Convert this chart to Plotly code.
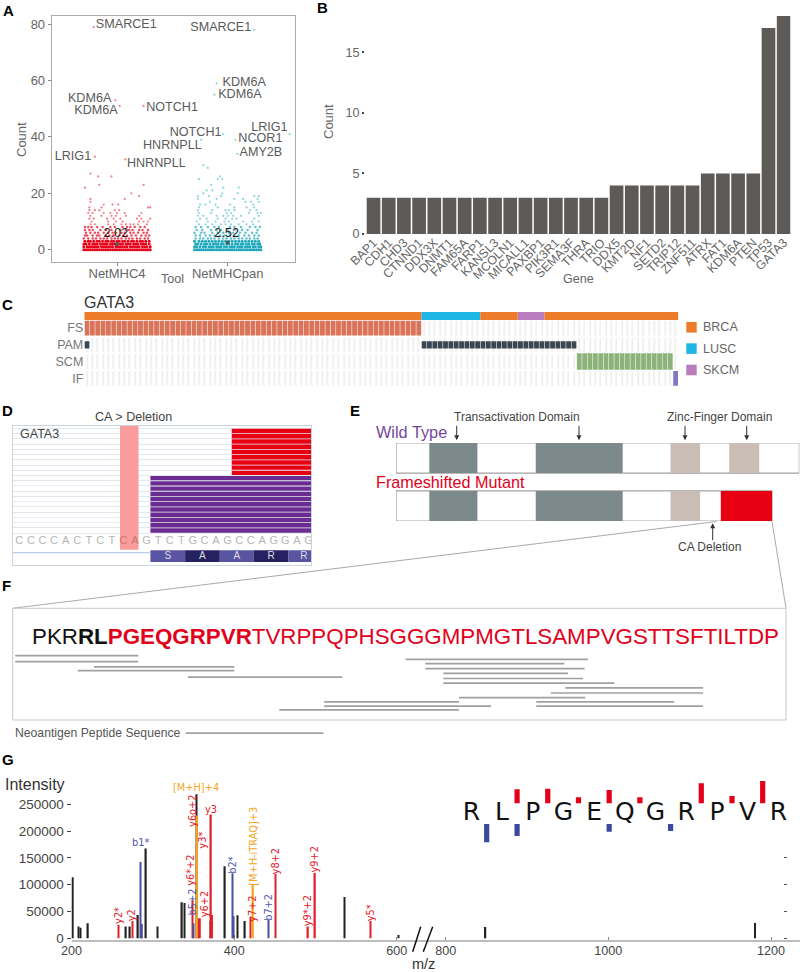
import plotly.graph_objects as go

W, H = 800, 972
SANS = "Liberation Sans"
MONO = "DejaVu Sans"
GREY = "#666666"

# ---------- Panel A data ----------
tools = ["NetMHC4", "NetMHCpan"]
n4_counts = [0, 1, 2, 3, 4, 5, 6, 7, 8, 9, 10, 11, 12, 13, 14, 15, 16, 17, 18, 19, 20, 22, 23, 26, 27]
n4_jitter = [
    [-30, -28, -26, -24, -22, -20, -18, -16, -14, -12, -10, -8, -6, -4, -2, 0, 2, 4, 6, 8, 10, 12, 14, 16, 18, 20, 22, 24, 26, 28, 30],
    [-30, -27, -25, -23, -21, -19, -17, -14, -12, -10, -8, -6, -4, -1, 1, 3, 5, 7, 9, 12, 14, 16, 18, 20, 23, 25, 27, 30],
    [-30, -28, -25, -22, -20, -18, -15, -13, -11, -9, -6, -4, -2, 0, 3, 5, 8, 10, 12, 15, 17, 19, 22, 24, 26, 29],
    [-29, -26, -24, -21, -18, -16, -13, -10, -8, -5, -3, 0, 2, 5, 7, 10, 13, 15, 18, 21, 23, 26, 29],
    [-30, -26, -22, -19, -15, -12, -9, -5, -2, 1, 4, 8, 11, 14, 18, 21, 25, 28],
    [-29, -27, -22, -18, -16, -10, -7, -3, 2, 6, 9, 13, 17, 22, 26, 29],
    [-28, -24, -20, -17, -12, -8, -4, -1, 4, 7, 12, 15, 19, 24, 27],
    [-29, -25, -22, -15, -10, -5, 3, 8, 11, 14, 20, 23, 28],
    [-29, -26, -23, -18, -13, -6, -2, 5, 9, 12, 16, 21, 25],
    [-24, -20, -8, -3, 4, 8, 12, 15, 19, 27],
    [-23, -8, -1, 5, 20, 24, 28],
    [-25, -21, -9, -3, 3, 18, 22, 30],
    [-24, -14, -5, -1, 8, 20],
    [-26, -22, -12, -6, 0, 7, 22],
    [-25, -20, -16, -2, 2],
    [-25, -14, 28, 30],
    [-12, -4, 1],
    [-24],
    [-24, 7],
    [20],
    [13],
    [-29],
    [-16, 24],
    [-17, -5],
    [-24],
]
n4_top_x = [-0.21, -0.015, 0.024, 0.24, -0.2, 0.075]
n4_top_y = [79, 53, 51, 51, 33, 32]

pan_counts = [0, 1, 2, 3, 4, 5, 6, 7, 8, 9, 10, 11, 12, 13, 14, 15, 16, 17, 18, 19, 20, 21, 22, 23, 25, 26]
pan_jitter = [
    [-30, -28, -26, -24, -22, -20, -18, -16, -14, -12, -10, -8, -6, -4, -2, 0, 2, 4, 6, 8, 10, 12, 14, 16, 18, 20, 22, 24, 26, 28, 30],
    [-30, -28, -25, -22, -20, -17, -15, -13, -10, -8, -6, -3, -1, 2, 4, 6, 9, 11, 13, 16, 18, 20, 23, 25, 28, 30],
    [-29, -27, -24, -21, -19, -16, -13, -11, -9, -6, -4, -1, 1, 4, 7, 9, 12, 14, 17, 19, 22, 24, 27, 29],
    [-30, -26, -23, -20, -17, -14, -11, -8, -5, -2, 1, 4, 7, 10, 13, 16, 19, 22, 25, 28],
    [-29, -25, -22, -18, -15, -12, -8, -4, -1, 3, 6, 10, 13, 17, 20, 24, 27],
    [-29, -25, -20, -16, -12, -7, -3, 2, 6, 10, 15, 19, 24, 28],
    [-30, -24, -21, -14, -9, -4, 1, 5, 11, 16, 22, 26],
    [-28, -23, -15, -10, -6, 0, 7, 13, 18, 27],
    [-29, -24, -18, -12, -8, 2, 6, 12, 20, 25, 29],
    [-26, -20, -14, -6, -2, 3, 10, 17, 23],
    [-28, -18, -11, -3, 1, 14, 22, 28],
    [-25, -19, -9, -2, 4, 8, 24],
    [-27, -22, -10, -4, 0, 5, 12, 28],
    [-26, -15, -1, 3, 19, 27, 30],
    [-27, -14, -2, 1, 6, 20, 26],
    [-26, -9, 6, 17, 24],
    [-25, -20, -11, 2, 23],
    [-16, 16, 21, 28],
    [-27, -10, 6, 14, 27],
    [-27, -17, -6, 24, 28],
    [-22, -5, 9],
    [-19, -14],
    [-4, 10],
    [-15],
    [-26, -9, -5],
    [-7],
]
pan_top_x = [1.238, 0.9, 0.88, 0.96, 1.56, 1.07, 1.087, 0.76, 0.78, 0.82]
pan_top_y = [78, 59, 55, 41, 41, 39, 34, 39, 30, 29]

means = [2.02, 2.52]
a_labels = ["SMARCE1", "KDM6A", "KDM6A", "NOTCH1", "LRIG1", "HNRNPLL", "SMARCE1", "KDM6A", "KDM6A",
            "NOTCH1", "LRIG1", "NCOR1", "AMY2B", "HNRNPLL"]
a_label_x = [0.084, -0.247, -0.19, 0.497, -0.398, 0.355, 0.937, 1.15, 1.11, 0.71, 1.376, 1.295, 1.30, 0.5]
a_label_y = [79.6, 53.5, 49.2, 50.2, 32.9, 30.3, 78.6, 59.2, 55, 41.5, 43.3, 39.3, 34.3, 37]

# ---------- Panel B data ----------
genes = ["BAP1", "CDH1", "CHD3", "CTNND1", "DDX3X", "DNMT1", "FAM65A", "FARP1", "KANSL3", "MCOLN1", "MICALL1",
         "PAXBP1", "PIK3R1", "SEMA3F", "THRA", "TRIO", "DDX5", "KMT2D", "NF1", "SETD2", "TRIP12", "ZNF511",
         "ATRX", "FAT1", "KDM6A", "PTEN", "TP53", "GATA3"]
gene_counts = [3, 3, 3, 3, 3, 3, 3, 3, 3, 3, 3, 3, 3, 3, 3, 3, 4, 4, 4, 4, 4, 4, 5, 5, 5, 5, 17, 18]

# ---------- Panel C data ----------
onco_rows = ["IF", "SCM", "PAM", "FS"]
n_samples = 111
cancer_names = ["BRCA", "LUSC", "BRCA", "SKCM", "BRCA"]
cancer_span = [63, 11, 7, 5, 25]
fs_samples = list(range(0, 63))
pam_samples = [0] + list(range(63, 92))
scm_samples = list(range(92, 110))
if_samples = [110]

# ---------- Panel D data ----------
bases = list("CCCCACTCTCAGTCTGCAGCCAGGAG")
red_rows = [0, 1, 2, 3, 4, 5, 6, 7, 8]
purple_rows = [9, 10, 11, 12, 13, 14, 15, 16, 17, 18, 19]
red_start, red_end = 18.36, 25.25
purple_start, purple_end = 11.33, 25.25
aa_names = ["S", "A", "A", "R", "R"]
aa_start = [11.33, 14.33, 17.33, 20.27, 23.27]
aa_end = [14.33, 17.33, 20.27, 23.27, 25.25]

# ---------- Panel E data ----------
wt_len, mut_len = 443, 413
trans_domains = [(36.6, 89.4), (153.5, 249)]
zinc_wt = [(301.5, 334), (366, 399)]
zinc_mut = [(301.5, 334)]
frameshift = (356.8, 413)

# ---------- Panel F data ----------
pep_start = [-1.10, -1.10, 4.07, 3.0, 10.23, 19.17, 19.17, 16.22, 24.51, 25.80, 25.80, 26.98, 26.98, 26.98, 34.98,
             34.04, 28.01, 33.08, 33.08]
pep_end = [6.97, 6.97, 13.27, 13.27, 20.35, 28.01, 30.11, 28.01, 36.47, 34.92, 36.25, 35.16, 36.14, 38.2, 44.02,
           44.02, 36.29, 42.13, 44.02]
pep_track = [0, 1.3, 2.4, 3.2, 4.6, 9.9, 10.8, 11.6, 0.8, 1.7, 2.8, 3.8, 4.9, 5.9, 6.9, 8, 9, 9.9, 10.8]

# ---------- Panel G data ----------
black_mz = [201.8, 208.4, 211.3, 220.3, 267, 271.9, 281.8, 286.3, 291.6, 305.5, 335.9, 339.1, 353.9, 371.1, 388.7,
            403.9, 413.3, 535.8, 601.8]
black_int = [113800, 21800, 19900, 28000, 21800, 21800, 43500, 26700, 167300, 21800, 67200, 65900, 268700, 32300,
             134300, 42900, 32300, 77100, 6200]
black_mz_hi = [849, 1180]
black_int_hi = [21100, 28600]
red_mz = [258, 274.8, 349, 356, 358, 371.5, 373, 420, 450.6, 490.8, 499.4, 567.8]
red_int = [25500, 32300, 71500, 37000, 37300, 230800, 43500, 40000, 120000, 21800, 121900, 32300]
blue_mz = [284.6, 286.3, 349.8, 397.7, 399, 400, 442.4]
blue_int = [142400, 26700, 28000, 121300, 41700, 6200, 34200]
orange_mz = [353.9, 422.8]
orange_int = [228900, 99500]
ions = ["[M+H]+4", "y6o+2", "y3", "y3*", "b1*", "[M+H-iTRAQ]+3", "y8+2", "y9+2", "y6*+2", "b2*", "b5+2", "y6+2",
        "b7+2", "y7+2", "y9*+2", "y5*", "y2*", "y2"]
ion_mz = [353.5, 349, 371.5, 361, 284.6, 422.8, 450.6, 499.4, 346.5, 397.7, 349, 363, 442.4, 422.4, 490.4, 567.8,
          258, 274.8]
ion_int = [281000, 237000, 241000, 183000, 178500, 172000, 144000, 147000, 127000, 136000, 68000, 63500, 58000,
           55500, 51500, 48000, 43000, 43500]
ion_angle = [0, -90, 0, -90, 0, -90, -90, -90, -90, -90, -90, -90, -90, -90, -90, -90, -90, -90]
ion_color = ["#f5a623", "#e3202a", "#e3202a", "#e3202a", "#5457b0", "#f5a623", "#e3202a", "#e3202a", "#e3202a",
             "#5457b0", "#5457b0", "#e3202a", "#5457b0", "#e3202a", "#e3202a", "#e3202a", "#e3202a", "#e3202a"]
peptide = list("RLPGEQGRPVR")
y_ion_pos = [1.49, 2.49, 3.49, 4.49, 5.49, 7.49, 8.49, 9.49]
y_ion_height = [4.2, 4.4, 1.8, 4.0, 1.8, 6.0, 2.2, 6.7]
b_ion_pos = [0.5, 1.49, 4.49, 6.49]
b_ion_height = [5.5, 3.6, 2.3, 2.1]


def xd(a, b):
    return [a / W, b / W]


def yd(top, bottom):
    return [1 - bottom / H, 1 - top / H]


annots = []
shapes = []


def txt(x, y, s, size=12, color=GREY, anchor="center", bold=False, angle=0, family=SANS):
    annots.append(dict(x=x / W, y=1 - y / H, xref="paper", yref="paper", text=f"<b>{s}</b>" if bold else s,
                       showarrow=False, xanchor=anchor, yanchor="middle", textangle=angle, borderpad=0, borderwidth=0,
                       font=dict(family=family, size=size, color=color)))


def arrow(x, y_head, y_tail):
    annots.append(dict(x=x / W, y=1 - y_head / H, xref="paper", yref="paper", text="", showarrow=True,
                       ax=0, ay=y_tail - y_head, arrowhead=2, arrowsize=1, arrowwidth=1, arrowcolor="#333333"))


def pline(x0, y0, x1, y1, color="#aaaaaa", width=1):
    shapes.append(dict(type="line", xref="paper", yref="paper", x0=x0 / W, x1=x1 / W, y0=1 - y0 / H, y1=1 - y1 / H,
                       line=dict(color=color, width=width)))


def pbox(x0, y0, x1, y1, fill=None, line=None):
    shapes.append(dict(type="rect", xref="paper", yref="paper", x0=x0 / W, x1=x1 / W, y0=1 - y0 / H, y1=1 - y1 / H,
                       fillcolor=fill if fill else "rgba(0,0,0,0)",
                       line=dict(color=line if line else "rgba(0,0,0,0)", width=1)))


HIDDEN = dict(visible=False)
fig = go.Figure()

# ---- A ----
def flatten(center, counts, jitter):
    xs, ys = [], []
    for c, row in zip(counts, jitter):
        for j in row:
            xs.append(center + j / 100)
            ys.append(c)
    return xs, ys


def dot_sizes(ys, solid):
    return [3.0 if v <= solid else (2.5 if v <= 8 else 2.2) for v in ys]


def dot_alpha(ys, solid):
    return [1 if v <= solid else (0.7 if v <= 8 else 0.5) for v in ys]


x4, y4 = flatten(0, n4_counts, n4_jitter)
xp, yp = flatten(1, pan_counts, pan_jitter)
red_y = y4 + n4_top_y
blue_y = yp + pan_top_y
fig.add_trace(go.Scatter(x=x4 + n4_top_x, y=red_y, mode="markers",
                         marker=dict(color="#e6001a", size=dot_sizes(red_y, 3), opacity=dot_alpha(red_y, 3),
                                     line=dict(width=0))))
fig.add_trace(go.Scatter(x=xp + pan_top_x, y=blue_y, mode="markers",
                         marker=dict(color="#1fa8bb", size=dot_sizes(blue_y, 3), opacity=dot_alpha(blue_y, 3),
                                     line=dict(width=0))))
fig.add_trace(go.Scatter(x=[0, 1], y=[2, 2.5], mode="markers",
                         marker=dict(color="#555555", size=3.5, symbol="square")))
fig.add_trace(go.Scatter(x=a_label_x, y=a_label_y, mode="text", text=a_labels,
                         textfont=dict(family=SANS, size=12.6, color="#5a5a5a")))
fig.add_trace(go.Scatter(x=[-0.01, 0.99], y=[5.5, 5.5], mode="text", text=[f"{m:.2f}" for m in means],
                         textfont=dict(family=SANS, size=12.8, color="#222222")))
axA = dict(showline=True, mirror=True, linecolor="#aaaaaa", linewidth=1, showgrid=False, zeroline=False,
           ticks="outside", ticklen=3, tickcolor="#888888", tickfont=dict(family=SANS, size=13, color="#666666"))
fig.update_layout(
    xaxis=dict(axA, domain=xd(51.7, 294.7), range=[-0.59, 1.605], tickvals=[0, 1], ticktext=tools,
               ticklabelstandoff=-3),
    yaxis=dict(axA, domain=yd(16, 261.5), range=[-4.2, 82.9], tickvals=[0, 20, 40, 60, 80]),
)
txt(21, 140, "Count", 13, "#666666", angle=-90)
txt(172, 279, "Tool", 12.6, "#666666")

# ---- B ----
fig.add_trace(go.Bar(x=genes, y=gene_counts, width=0.9, marker=dict(color="#5e5a58", line=dict(width=0)),
                     xaxis="x2", yaxis="y2"))
fig.update_layout(
    xaxis2=dict(domain=xd(365, 790.5), range=[-0.562, 27.45], type="category", categoryorder="array",
                categoryarray=genes, tickmode="array", tickvals=genes, ticktext=genes, tickangle=-45, anchor="y2",
                showgrid=False, zeroline=False, showline=False, ticks="", ticklabelstandoff=-2,
                tickfont=dict(family=SANS, size=12.4, color="#666666")),
    yaxis2=dict(domain=yd(16, 234), range=[0, 18], tickvals=[0, 5, 10, 15], anchor="x2", showgrid=False,
                zeroline=False, showline=False, ticks="outside", ticklen=2, tickwidth=2, tickcolor="#444444",
                tickfont=dict(family=SANS, size=12.6, color="#666666")),
)
txt(578, 279, "Gene", 12.6, "#666666")
txt(328, 122, "Count", 13, "#666666", angle=-90)

# ---- C ----
cancer_color = {"BRCA": "#ee7b2a", "LUSC": "#1fb6e6", "SKCM": "#b97cbd"}
all_samples = list(range(n_samples))
for row in [0, 1, 2, 3]:
    fig.add_trace(go.Bar(x=all_samples, y=[0.88] * n_samples, base=[row - 0.44] * n_samples, width=0.2,
                         marker=dict(color="#f0f0f0", line=dict(width=0)), xaxis="x3", yaxis="y3"))
start = 0
for name, span in zip(cancer_names, cancer_span):
    fig.add_trace(go.Bar(x=[start + span / 2 - 0.5], y=[0.48], base=[3.48], width=span,
                         marker=dict(color=cancer_color[name], line=dict(width=0)), xaxis="x3", yaxis="y3"))
    start += span
for samples, row, h, col in [(fs_samples, 3, 0.88, "#d9735a"), (pam_samples, 2, 0.44, "#3a4750"),
                             (scm_samples, 1, 0.98, "#8db27a"), (if_samples, 0, 0.88, "#8278c4")]:
    fig.add_trace(go.Bar(x=samples, y=[h] * len(samples), base=[row - h / 2] * len(samples), width=0.9,
                         marker=dict(color=col, line=dict(width=0)), xaxis="x3", yaxis="y3"))
fig.update_layout(
    xaxis3=dict(HIDDEN, domain=xd(84.3, 678.3), range=[-0.5, 110.5], anchor="y3"),
    yaxis3=dict(domain=yd(311, 387), range=[-0.52, 4.02], tickvals=[0, 1, 2, 3], ticktext=onco_rows, anchor="x3",
                showgrid=False, zeroline=False, showline=False, ticks="",
                tickfont=dict(family=SANS, size=12.5, color="#777777")),
)
txt(84, 302.7, "GATA3", 16, "#333333", "left")
for name, top in zip(["BRCA", "LUSC", "SKCM"], [322, 343.3, 364.7]):
    pbox(686.3, top, 696.7, top + 10.6, fill=cancer_color[name])
    txt(703, top + 5.3, name, 12.5, "#666666", "left")

# ---- D ----
n_red, n_purple = len(red_rows), len(purple_rows)
fig.add_trace(go.Bar(y=[10.84], x=[1.6], base=[8.7], width=23.72, orientation="h",
                     marker=dict(color="#fa9c9c", line=dict(width=0)), xaxis="x4", yaxis="y4"))
fig.add_trace(go.Bar(y=red_rows, x=[red_end - red_start] * n_red, base=[red_start] * n_red, width=0.84,
                     orientation="h", marker=dict(color="#e60012", line=dict(width=0)), xaxis="x4", yaxis="y4"))
fig.add_trace(go.Bar(y=purple_rows, x=[purple_end - purple_start] * n_purple, base=[purple_start] * n_purple, width=0.84,
                     orientation="h", marker=dict(color="#6a2c91", line=dict(width=0)), xaxis="x4", yaxis="y4"))
fig.add_trace(go.Bar(y=[23.9] * len(aa_names), x=[e - s for s, e in zip(aa_start, aa_end)], base=aa_start, width=2.23,
                     orientation="h", marker=dict(color=["#5a55a3", "#262262", "#5a55a3", "#262262", "#5a55a3"],
                                                  line=dict(width=0)), xaxis="x4", yaxis="y4"))
fig.add_trace(go.Scatter(x=[-0.576, 11.33], y=[23.25, 23.25], mode="lines", line=dict(color="#a9c4e4", width=1),
                         xaxis="x4", yaxis="y4"))
fig.add_trace(go.Scatter(x=list(range(len(bases))), y=[21] * len(bases), mode="text", text=bases,
                         textfont=dict(family=SANS, size=11,
                                       color=["#d07070" if i in (9, 10) else "#b5b5b5" for i in range(len(bases))]),
                         xaxis="x4", yaxis="y4"))
fig.add_trace(go.Scatter(x=[(s + e) / 2 for s, e in zip(aa_start, aa_end)][:4] + [24.6], y=[23.9] * 5, mode="text",
                         text=aa_names, textfont=dict(family=SANS, size=10, color="#dddddd"),
                         xaxis="x4", yaxis="y4"))
fig.update_layout(
    xaxis4=dict(domain=xd(12.7, 311.3), range=[-0.576, 25.24], anchor="y4", showticklabels=False, ticks="",
                showline=True, mirror=True, linecolor="#ccd3da", showgrid=False, zeroline=False),
    yaxis4=dict(domain=yd(425.7, 565), range=[25.6, -1.02], anchor="x4", showticklabels=False, ticks="",
                tickvals=[r - 0.5 for r in red_rows + purple_rows] + [19.5], showgrid=True, gridcolor="#e3e9ef",
                gridwidth=1, showline=True, mirror=True, linecolor="#ccd3da", zeroline=False),
)
txt(19.5, 433.5, "GATA3", 12.5, "#444444", "left")
txt(133.5, 416.7, "CA &gt; Deletion", 12.6, "#444444")

# ---- E ----
ROW_WT, ROW_MUT = 1, 0
BH = 0.63


def hbar(start_, end_, row, color, line=None):
    fig.add_trace(go.Bar(y=[row], x=[end_ - start_], base=[start_], width=BH, orientation="h",
                         marker=dict(color=color, line=dict(color=line or color, width=1 if line else 0)),
                         xaxis="x5", yaxis="y5"))


hbar(0, wt_len, ROW_WT, "#ffffff", "#8a8a8a")
hbar(0, mut_len, ROW_MUT, "#ffffff", "#8a8a8a")
for row in (ROW_WT, ROW_MUT):
    for a, b in trans_domains:
        hbar(a, b, row, "#7d8a8c")
for a, b in zinc_wt:
    hbar(a, b, ROW_WT, "#cabdb5")
for a, b in zinc_mut:
    hbar(a, b, ROW_MUT, "#cabdb5")
hbar(frameshift[0], frameshift[1], ROW_MUT, "#e60012")
fig.update_layout(
    xaxis5=dict(HIDDEN, domain=xd(396, 799.3), range=[0, 443], anchor="y5"),
    yaxis5=dict(HIDDEN, domain=yd(443, 521), range=[-0.3125, 1.3125], anchor="x5"),
)
txt(516.7, 417, "Transactivation Domain", 12, "#444444")
txt(719, 417, "Zinc-Finger Domain", 12, "#444444")
txt(376, 431.7, "Wild Type", 16.3, "#73479c", "left")
txt(376, 482, "Frameshifted Mutant", 16.2, "#e2001a", "left")
txt(709, 547, "CA Deletion", 12, "#444444")
for ax_ in [456.7, 579, 685, 746.7]:
    arrow(ax_, 440.3, 424.3)
arrow(712.7, 523.3, 541.7)
pline(716.7, 521.5, 12.7, 608.3)
pline(772, 521.5, 786, 608.3)

# ---- F ----
px_, py_ = [], []
for s, e, t in zip(pep_start, pep_end, pep_track):
    px_ += [s, e, None]
    py_ += [t, t, None]
px_ += [10.08, 19.11]
py_ += [16.6, 16.6]
fig.add_trace(go.Scatter(x=px_, y=py_, mode="lines", line=dict(color="#a0a0a0", width=1.7), xaxis="x6", yaxis="y6"))
fig.update_layout(
    xaxis6=dict(HIDDEN, domain=xd(12.7, 786), range=[-1.266, 49.46], anchor="y6"),
    yaxis6=dict(HIDDEN, domain=yd(608.3, 742), range=[18.5, -10.14], anchor="x6"),
)
pbox(12.7, 608.3, 786, 720, line="#c8c8c8")
seq = ("<span style='color:#111111'>PKR<b>RL</b></span>"
       "<span style='color:#e2001a'><b>PGEQGRPVR</b>TVRPPQPHSGGGMPMGTLSAMPVGSTTSFTILTDP</span>")
txt(32, 636.7, seq, 22.35, "#e2001a", "left")
txt(14.7, 733, "Neoantigen Peptide Sequence", 12.2, "#555555", "left")

# ---- G ----
for mz, it, col, w in [(black_mz, black_int, "#222222", 1.7), (red_mz, red_int, "#e3202a", 1.9),
                       (blue_mz, blue_int, "#4a4fa3", 1.9), (orange_mz, orange_int, "#f5a623", 2.8)]:
    fig.add_trace(go.Bar(x=mz, y=it, width=w, marker=dict(color=col, line=dict(width=0)), xaxis="x7", yaxis="y7"))
fig.add_trace(go.Bar(x=black_mz_hi, y=black_int_hi, width=1.7, marker=dict(color="#222222", line=dict(width=0)),
                     xaxis="x8", yaxis="y7"))
fig.add_trace(go.Scatter(x=[1000], y=[0], mode="markers", marker=dict(opacity=0), xaxis="x8", yaxis="y8"))
y_range = [-3172, 295300]
axG = dict(showgrid=False, zeroline=False, showline=True, linecolor="#bdbdbd", linewidth=1.5, ticks="inside",
           ticklen=3, tickcolor="#888888", ticklabelstandoff=-2, tickfont=dict(family=SANS, size=12.6, color="#444444"))
fig.update_layout(
    xaxis7=dict(axG, domain=xd(71.5, 419), range=[200, 627.3], tickvals=[200, 400, 600], anchor="y7"),
    xaxis8=dict(axG, domain=xd(419, 800), range=[767.2, 1235.6], tickvals=[800, 1000, 1200], anchor="y7"),
    yaxis7=dict(domain=yd(780, 940), range=y_range, anchor="x7", tickvals=[0, 50000, 100000, 150000, 200000, 250000],
                tickformat="d", showgrid=False, zeroline=False, showline=False, ticks="outside", ticklen=4,
                tickcolor="#444444", tickfont=dict(family=SANS, size=13.5, color="#444444")),
    yaxis8=dict(domain=yd(780, 940), range=y_range, anchor="free", overlaying="y7", side="right", position=783 / W,
                tickvals=[0, 50000, 100000, 150000, 200000, 250000], showticklabels=False, showgrid=False,
                zeroline=False, showline=False, ticks="outside", ticklen=3, tickcolor="#555555"),
)
for name, mz, it, ang, col in zip(ions, ion_mz, ion_int, ion_angle, ion_color):
    annots.append(dict(x=mz, y=it, xref="x7", yref="y7", text=name, showarrow=False, textangle=ang,
                       font=dict(family=MONO, size=9.8, color=col)))
txt(5, 784.3, "Intensity", 16, "#333333", "left")
txt(423, 964, "m/z", 14.5, "#333333")
pline(412.7, 951.7, 420.7, 926.7, "#111111", 1.5)
pline(423.3, 951.7, 432.7, 926.7, "#111111", 1.5)

fig.add_trace(go.Bar(x=y_ion_pos, y=y_ion_height, base=[3] * len(y_ion_pos), width=0.17,
                     marker=dict(color="#e3001b", line=dict(width=0)), xaxis="x9", yaxis="y9"))
fig.add_trace(go.Bar(x=b_ion_pos, y=[-h for h in b_ion_height], base=[-3.2] * len(b_ion_pos), width=0.17,
                     marker=dict(color="#3a4a9f", line=dict(width=0)), xaxis="x9", yaxis="y9"))
fig.add_trace(go.Scatter(x=list(range(len(peptide))), y=[0] * len(peptide), mode="text", text=peptide,
                         textfont=dict(family=MONO, size=25, color="#111111"), xaxis="x9", yaxis="y9"))
fig.update_layout(
    xaxis9=dict(HIDDEN, domain=xd(460, 790), range=[-0.369, 10.38], anchor="y9"),
    yaxis9=dict(HIDDEN, domain=yd(778.3, 845), range=[-9.5, 10.5], anchor="x9"),
)

# ---- panel letters ----
for s, x, y in [("A", 2.5, 10), ("B", 317, 8), ("C", 2, 304), ("D", 2, 410), ("E", 350, 410), ("F", 2, 585), ("G", 2, 759)]:
    txt(x, y, s, 15, "#000000", "left", bold=True)

fig.update_layout(template="none", width=W, height=H, autosize=False, margin=dict(l=0, r=0, t=0, b=0, pad=0),
                  showlegend=False, barmode="overlay", paper_bgcolor="white", plot_bgcolor="white",
                  annotations=annots, shapes=shapes, hovermode=False)
fig.write_html("out.html", config=dict(displayModeBar=False),
               post_script="document.body.style.margin='0';document.body.style.overflow='hidden';")
